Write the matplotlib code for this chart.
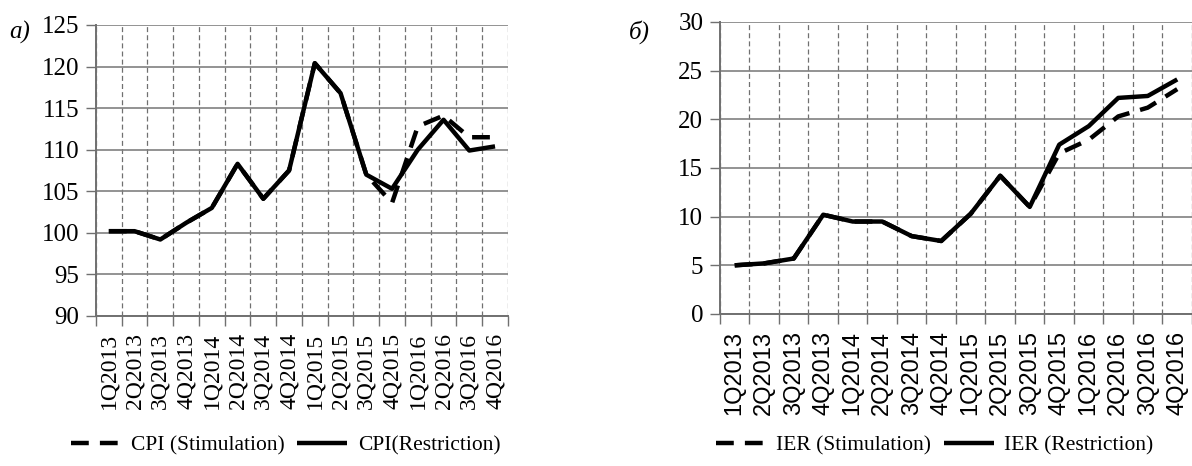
import numpy as np
import matplotlib
matplotlib.use("Agg")
import matplotlib.pyplot as plt

# Данные (кварталы 2013-2016)
quarters = ["1Q2013", "2Q2013", "3Q2013", "4Q2013",
            "1Q2014", "2Q2014", "3Q2014", "4Q2014",
            "1Q2015", "2Q2015", "3Q2015", "4Q2015",
            "1Q2016", "2Q2016", "3Q2016", "4Q2016"]

cpi_stimulation = [100.2, 100.2, 99.2, 101.2, 103.0, 108.3, 104.1, 107.5,
                   120.4, 116.8, 107.0, 103.6, 112.8, 114.1, 111.5, 111.5]
cpi_restriction = [100.2, 100.2, 99.2, 101.2, 103.0, 108.3, 104.1, 107.5,
                   120.4, 116.8, 107.0, 105.3, 110.0, 113.6, 109.9, 110.4]

ier_stimulation = [5.0, 5.2, 5.7, 10.2, 9.5, 9.5, 8.0, 7.5,
                   10.3, 14.2, 11.0, 16.5, 17.9, 20.3, 21.2, 23.1]
ier_restriction = [5.0, 5.2, 5.7, 10.2, 9.5, 9.5, 8.0, 7.5,
                   10.3, 14.2, 11.0, 17.4, 19.3, 22.2, 22.4, 24.1]

plt.rcParams["font.family"] = ["Liberation Serif", "DejaVu Serif"]
plt.rcParams["lines.solid_capstyle"] = "butt"

fig = plt.figure(figsize=(11.92, 4.66), dpi=100)
ax1 = fig.add_axes([0.0805, 0.3219, 0.3456, 0.6245])
ax2 = fig.add_axes([0.604, 0.3262, 0.396, 0.6266])

x = np.arange(len(quarters))
edges = np.arange(len(quarters) + 1) - 0.5


def setup(ax, ylim, yticks, tick_family):
    ax.set_xlim(-0.5, len(quarters) - 0.5)
    ax.set_ylim(*ylim)
    ax.set_yticks(yticks)
    ax.set_xticks(x)
    ax.set_xticklabels(quarters, rotation=90, fontsize=17, family=tick_family)
    ax.set_xticks(edges, minor=True)
    ax.tick_params(axis="x", which="major", length=0, pad=12)
    ax.tick_params(axis="x", which="minor", length=7, width=1, color="#707070",
                   direction="out")
    ax.tick_params(axis="y", length=7, width=1, color="#707070", pad=5,
                   labelsize=18)
    ax.grid(axis="y", which="major", color="#808080", linewidth=1.2)
    ax.grid(axis="x", which="minor", color="#707070", linewidth=0.9,
            linestyle=(0, (4, 2.5)))
    for s in ["top", "right"]:
        ax.spines[s].set_visible(False)
    ax.spines["left"].set_color("#707070")
    ax.spines["left"].set_linewidth(1.4)
    ax.spines["bottom"].set_color("#707070")
    ax.spines["bottom"].set_linewidth(1.4)


setup(ax1, (90, 125), range(90, 126, 5), ["Liberation Serif"])
setup(ax2, (0, 30), range(0, 31, 5), ["Liberation Sans"])

dash = (0, (4, 2.5))
ax1.plot(x, cpi_stimulation, color="black", linewidth=3.2, linestyle=dash,
         label="CPI (Stimulation)")
ax1.plot(x, cpi_restriction, color="black", linewidth=3.2,
         label="CPI(Restriction)")
ax2.plot(x, ier_stimulation, color="black", linewidth=3.2, linestyle=dash,
         label="IER (Stimulation)")
ax2.plot(x, ier_restriction, color="black", linewidth=3.2,
         label="IER (Restriction)")

for ax, cx, cy in [(ax1, 0.46, -0.445), (ax2, 0.455, -0.45)]:
    ax.legend(loc="center", bbox_to_anchor=(cx, cy), ncol=2, frameon=False,
              fontsize=15.5, handlelength=2.3, handletextpad=0.5,
              columnspacing=0.6)

fig.text(20 / 1192, 1 - 32 / 466, "a)", fontsize=18, style="italic",
         ha="center", va="center")
fig.text(639 / 1192, 1 - 32 / 466, "б)", fontsize=18, style="italic",
         ha="center", va="center")

fig.savefig("out.png", dpi=100)
